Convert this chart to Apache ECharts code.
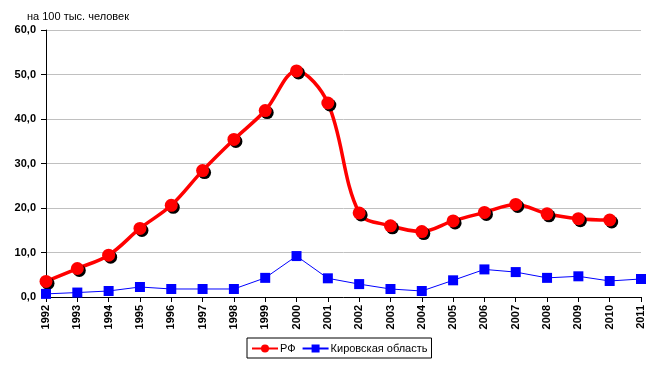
<!DOCTYPE html>
<html><head><meta charset="utf-8">
<script src="https://cdn.jsdelivr.net/npm/echarts@6/dist/echarts.min.js"></script>
<style>html,body{margin:0;padding:0;background:#fff}#c{width:661px;height:365px}</style>
</head><body><div id="c"></div>
<script>
var years = ['1992','1993','1994','1995','1996','1997','1998','1999','2000','2001','2002','2003','2004','2005','2006','2007','2008','2009','2010','2011'];
var rf = [3.5,6.4,9.4,15.4,20.6,28.4,35.4,41.9,50.8,43.6,18.9,16.0,14.7,17.1,19.0,20.8,18.7,17.6,17.3,null];
var kirov = [0.7,1.0,1.35,2.25,1.8,1.8,1.8,4.3,9.2,4.2,2.9,1.8,1.35,3.75,6.2,5.6,4.3,4.65,3.6,4.05];
var yTitle = 'на 100 тыс. человек';
var chart = echarts.init(document.getElementById('c'));
chart.setOption({
  animation:false,
  textStyle:{fontFamily:'Liberation Sans, Arial, sans-serif'},
  title:{text:yTitle,left:22,top:6,textStyle:{fontSize:11,fontWeight:'normal',color:'#000'}},
  grid:{left:46,right:20,top:30,bottom:68},
  legend:{left:247,top:338,itemGap:6,itemWidth:26,itemHeight:10,borderColor:'#000',borderWidth:1,padding:[5,4,4,4],
    textStyle:{fontSize:11,color:'#000',padding:[0,0,0,-3]},data:['РФ','Кировская область']},
  xAxis:{type:'category',data:years,boundaryGap:false,
    axisLine:{lineStyle:{color:'#000',width:1}},
    axisTick:{show:true,alignWithLabel:true,length:5,lineStyle:{color:'#000'}},
    axisLabel:{rotate:90,fontSize:11,fontWeight:'bold',color:'#000',margin:8,interval:0}},
  yAxis:{type:'value',min:0,max:60,interval:10,
    axisLine:{show:true,lineStyle:{color:'#000',width:1}},
    axisTick:{show:true,length:5,lineStyle:{color:'#000'}},
    splitLine:{lineStyle:{color:'#c0c0c0',width:1}},
    axisLabel:{fontSize:11,fontWeight:'bold',color:'#000',margin:10,formatter:function(v){return v.toFixed(1).replace('.',',');}}},
  series:[
    {name:'РФ',type:'line',data:rf,smooth:0.35,symbol:'circle',symbolSize:13,
      lineStyle:{color:'#ff0000',width:3.5},
      itemStyle:{color:'#ff0000',shadowColor:'#000',shadowOffsetX:2,shadowOffsetY:2,shadowBlur:0}},
    {name:'Кировская область',type:'line',data:kirov,symbol:'rect',symbolSize:10,
      lineStyle:{color:'#0000ff',width:1},
      itemStyle:{color:'#0000ff'}}
  ]
});
</script></body></html>
